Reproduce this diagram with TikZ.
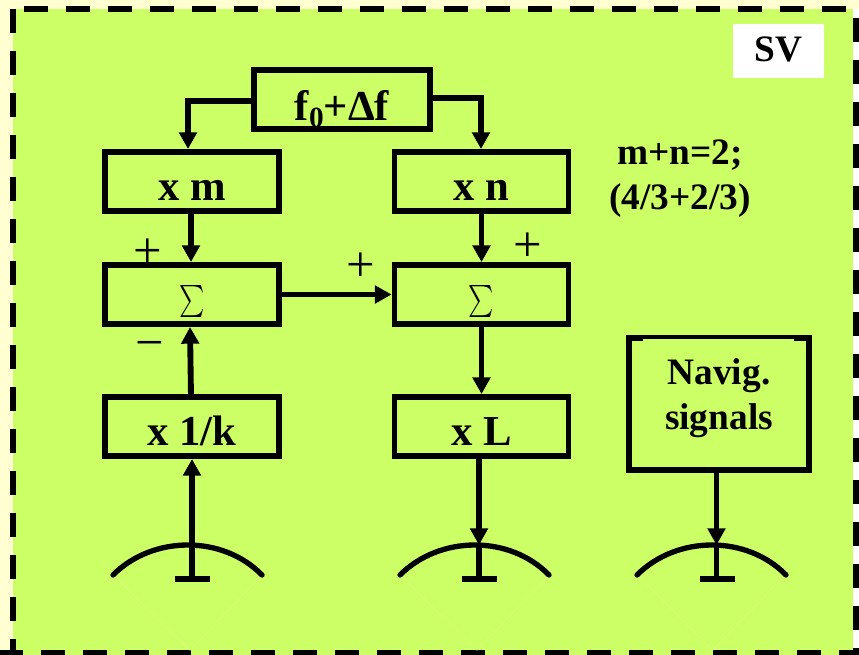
\documentclass[tikz,border=0pt]{standalone}
\usepackage{fontspec}
\usepackage{graphicx}
\setmainfont{Liberation Serif}
\usetikzlibrary{arrows.meta}
\definecolor{bgreen}{HTML}{CCFF66}
\definecolor{cream}{HTML}{FFFFD2}
\definecolor{faint}{HTML}{D6FF70}
\tikzset{
 x=0.75pt,y=-0.75pt,
 blk/.style={draw=black,line width=4.4pt,fill=bgreen,minimum width=130.5pt,minimum height=44.25pt,inner sep=0pt,font=\fontsize{32}{34}\selectfont\bfseries},
 lbl/.style={font=\fontsize{28}{34}\selectfont\bfseries,align=center,inner sep=0pt},
 sgn/.style={font=\fontsize{38}{40}\selectfont,inner sep=0pt},
 conn/.style={line width=4.4pt,-{Triangle[length=12.5pt,width=13pt]}},
 plainconn/.style={line width=4.4pt},
 ant/.style={line width=4pt},
 frame/.style={line width=4.5pt,dash pattern=on 18pt off 13.5pt},
}
\newcommand{\bigsum}{\raisebox{-19.9pt}[0pt][0pt]{\scalebox{1.8}[2.4]{\normalfont$\sum$}}}
\newcommand{\dn}[2][14.6pt]{\raisebox{-#1}[0pt][0pt]{#2}}
\begin{document}
\begin{tikzpicture}
\useasboundingbox (0,0) rectangle (859,655);
\fill[white] (0,0) rectangle (859,655);
\fill[cream] (0,0) rectangle (859,9);
\fill[cream] (0,0) rectangle (13,655);
\fill[bgreen] (13,9) rectangle (853,655);
\begin{scope}
\clip (0,0) rectangle (859,655);
\draw[frame] (24,9) -- (859,9);
\draw[frame] (13,9) -- (13,655);
\draw[frame] (-1,653) -- (859,653);
\draw[frame] (856,18) -- (856,655);
\end{scope}
\foreach \a/\b/\c in {113/190/262,400/477/549,637/713/785}{
 \draw[faint,line width=.6pt] (\a,575) -- (\b,650) -- (\c,575);
}
\node[fill=white,minimum width=68.25pt,minimum height=40.5pt,inner sep=0pt,font=\fontsize{28}{30}\selectfont\bfseries] (sv) at (778.5,51) {\raisebox{3pt}{SV}};
\node[blk,minimum width=132pt] (f) at (342,99.5) {\dn[15.4pt]{f\raisebox{-5.3pt}{\fontsize{22}{22}\selectfont 0}+Δf}};
\node[blk] (xm) at (192,181.5) {\dn{x m}};
\node[blk] (xn) at (481.5,181.5) {\dn{x n}};
\node[blk] (s1) at (192,294.5) {\bigsum};
\node[blk] (s2) at (481.5,294.5) {\bigsum};
\node[blk] (xk) at (192,426.5) {\dn{x 1/k}};
\node[blk] (xl) at (481.5,426.5) {\dn{x L}};
\node[draw=black,line width=4.4pt,fill=bgreen,minimum width=135pt,minimum height=99pt,inner sep=0pt] (nav) at (719,404) {};
\fill[bgreen] (643,339.5) rectangle (794,343);
\node[lbl] (navt) at (719,398) {Navig.\\signals};
\node[lbl] (eq) at (680,178.5) {m+n=2;\\(4/3+2/3)};
\node[sgn] (p1) at (148,253) {+};
\node[sgn] (p2) at (361,267) {+};
\node[sgn] (p3) at (528,247) {+};
\node[sgn] (m1) at (150,350) {−};
\coordinate (atip) at (192,459);
\coordinate (afoot) at (192,579);
\coordinate (bfoot) at (479,579);
\coordinate (btip) at (479,545);
\coordinate (cfoot) at (716.5,579);
\coordinate (ctip) at (716.5,545);
\coordinate (xlout) at (479,456);
\coordinate (navout) at (716.5,470);
\foreach \a/\s in {113/192,400/479,637/717}{
 \draw[ant,line cap=round] (\a,575) .. controls (\a+40,535) and (\a+110,535) .. (\a+149,575);
 \draw[ant] (\s-17,579) -- (\s+18,579);
}
\draw[conn] (afoot) -- (atip);
\draw[conn] (xlout) -- (btip);
\draw[plainconn] (btip) -- (bfoot);
\draw[conn] (navout) -- (ctip);
\draw[plainconn] (ctip) -- (cfoot);
\coordinate (kup) at (191,397);
\coordinate (s1in) at (190,327);
\draw[conn] (kup) -- (s1in);
\coordinate (mout) at (191,211);
\coordinate (s1top) at (191,262);
\draw[conn] (mout) -- (s1top);
\draw[conn] (xn.south) -- (s2.north);
\draw[conn] (s1.east) -- (s2.west);
\draw[conn] (s2.south) -- (xl.north);
\coordinate (fl) at (253,101);
\coordinate (fr) at (431,98);
\draw[conn] (fl) -- (188,101) -- (188,149);
\draw[conn] (fr) -- (481,98) -- (481,149);
\end{tikzpicture}
\end{document}
